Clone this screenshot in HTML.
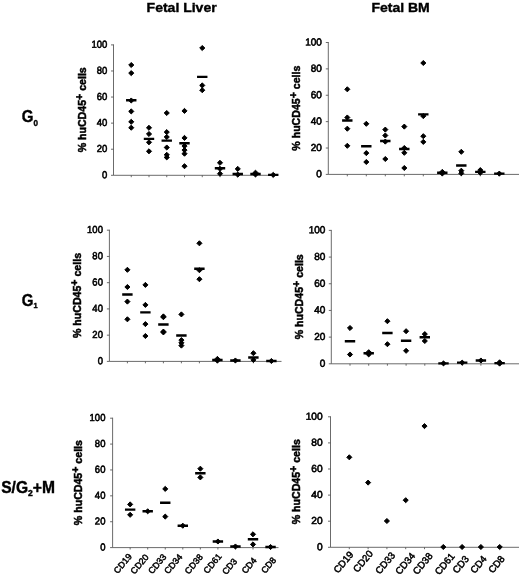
<!DOCTYPE html>
<html><head><meta charset="utf-8"><title>Figure</title>
<style>
html,body{margin:0;padding:0;background:#fff;}
body{width:520px;height:577px;overflow:hidden;}
svg{display:block;filter:blur(0.3px);font-family:"Liberation Sans",Arial,sans-serif;}
.t{font-weight:bold;font-size:13.6px;stroke:#000;stroke-width:0.4px;}
.r{font-weight:bold;font-size:16px;stroke:#000;stroke-width:0.4px;}
.yl{font-weight:bold;font-size:10.6px;stroke:#000;stroke-width:0.5px;}
.n{font-size:10.2px;stroke:#000;stroke-width:0.6px;}
.c{stroke:#000;stroke-width:0.5px;}
</style></head><body>
<svg width="520" height="577" viewBox="0 0 520 577">
<rect width="520" height="577" fill="#fff"/>

<text class="t" transform="translate(181.6 11.7) scale(1.03 1)" text-anchor="middle">Fetal Liver</text>
<text class="t" transform="translate(400.6 11.7) scale(1.03 1)" text-anchor="middle">Fetal BM</text>
<text class="r" transform="translate(21.8 122.3) scale(0.94 1)">G<tspan font-size="8.6" dy="3.2">0</tspan></text>
<text class="r" transform="translate(21.8 306.4) scale(0.94 1)">G<tspan font-size="7.8" dy="1.5">1</tspan></text>
<text class="r" transform="translate(1.2 492.9) scale(0.975 1)" font-size="15">S/G<tspan font-size="8.8" dy="3.3">2</tspan><tspan dy="-3.3">+M</tspan></text>
<g><path d="M113.5 44.4V175.3H276.5" fill="none" stroke="#505050" stroke-width="0.85"/>
<path d="M111.0 175.30H113.5 M111.0 149.22H113.5 M111.0 123.14H113.5 M111.0 97.06H113.5 M111.0 70.98H113.5 M111.0 44.90H113.5 M131.25 175.3V177.20000000000002 M149.00 175.3V177.20000000000002 M166.75 175.3V177.20000000000002 M184.50 175.3V177.20000000000002 M202.25 175.3V177.20000000000002 M220.00 175.3V177.20000000000002 M237.75 175.3V177.20000000000002 M255.50 175.3V177.20000000000002 M273.25 175.3V177.20000000000002" fill="none" stroke="#505050" stroke-width="0.85"/>
<text class="n" transform="translate(107.20 178.20) scale(0.93 1) rotate(0.03)" text-anchor="end">0</text>
<text class="n" transform="translate(107.20 152.12) scale(0.93 1) rotate(0.03)" text-anchor="end">20</text>
<text class="n" transform="translate(107.20 126.04) scale(0.93 1) rotate(0.03)" text-anchor="end">40</text>
<text class="n" transform="translate(107.20 99.96) scale(0.93 1) rotate(0.03)" text-anchor="end">60</text>
<text class="n" transform="translate(107.20 73.88) scale(0.93 1) rotate(0.03)" text-anchor="end">80</text>
<text class="n" transform="translate(107.20 47.80) scale(0.93 1) rotate(0.03)" text-anchor="end">100</text>
<text class="yl" transform="translate(85.5 109.80000000000001) rotate(-90)" text-anchor="middle">% huCD45<tspan font-size="10.6" dy="-3.0">+</tspan><tspan dy="3.0"> cells</tspan></text>
<path d="M131.25 62.45l2.55 2.55l-2.55 2.55l-2.55 -2.55z M131.25 70.55l2.55 2.55l-2.55 2.55l-2.55 -2.55z M131.25 97.95l2.55 2.55l-2.55 2.55l-2.55 -2.55z M131.25 108.85l2.55 2.55l-2.55 2.55l-2.55 -2.55z M131.25 119.25l2.55 2.55l-2.55 2.55l-2.55 -2.55z M131.25 125.15l2.55 2.55l-2.55 2.55l-2.55 -2.55z M149.00 125.25l2.55 2.55l-2.55 2.55l-2.55 -2.55z M149.00 131.45l2.55 2.55l-2.55 2.55l-2.55 -2.55z M149.00 139.75l2.55 2.55l-2.55 2.55l-2.55 -2.55z M149.00 148.75l2.55 2.55l-2.55 2.55l-2.55 -2.55z M166.75 110.45l2.55 2.55l-2.55 2.55l-2.55 -2.55z M166.75 129.55l2.55 2.55l-2.55 2.55l-2.55 -2.55z M166.75 134.45l2.55 2.55l-2.55 2.55l-2.55 -2.55z M166.75 144.95l2.55 2.55l-2.55 2.55l-2.55 -2.55z M166.75 152.25l2.55 2.55l-2.55 2.55l-2.55 -2.55z M166.75 154.85l2.55 2.55l-2.55 2.55l-2.55 -2.55z M184.50 108.35l2.55 2.55l-2.55 2.55l-2.55 -2.55z M184.50 135.35l2.55 2.55l-2.55 2.55l-2.55 -2.55z M184.50 143.55l2.55 2.55l-2.55 2.55l-2.55 -2.55z M184.50 147.55l2.55 2.55l-2.55 2.55l-2.55 -2.55z M184.50 151.15l2.55 2.55l-2.55 2.55l-2.55 -2.55z M184.50 163.65l2.55 2.55l-2.55 2.55l-2.55 -2.55z M202.25 45.45l2.55 2.55l-2.55 2.55l-2.55 -2.55z M202.25 82.85l2.55 2.55l-2.55 2.55l-2.55 -2.55z M202.25 87.65l2.55 2.55l-2.55 2.55l-2.55 -2.55z M220.00 160.25l2.55 2.55l-2.55 2.55l-2.55 -2.55z M220.00 166.25l2.55 2.55l-2.55 2.55l-2.55 -2.55z M220.00 171.15l2.55 2.55l-2.55 2.55l-2.55 -2.55z M237.75 166.35l2.55 2.55l-2.55 2.55l-2.55 -2.55z M237.75 172.05l2.55 2.55l-2.55 2.55l-2.55 -2.55z M255.50 170.15l2.55 2.55l-2.55 2.55l-2.55 -2.55z M255.50 171.95l2.55 2.55l-2.55 2.55l-2.55 -2.55z M273.25 172.35l2.55 2.55l-2.55 2.55l-2.55 -2.55z" fill="#000" stroke="#000" stroke-width="1.0" stroke-linejoin="round"/>
<path d="M126.05 100.20h10.4 M143.80 138.90h10.4 M161.55 140.60h10.4 M179.30 143.20h10.4 M197.05 76.90h10.4 M214.80 168.30h10.4 M232.55 174.00h10.4 M250.30 174.00h10.4 M268.05 174.90h10.4" stroke="#000" stroke-width="2.4" fill="none"/></g>
<g><path d="M328.3 42.0V174.4H519" fill="none" stroke="#505050" stroke-width="0.85"/>
<path d="M325.8 174.40H328.3 M325.8 148.02H328.3 M325.8 121.64H328.3 M325.8 95.26H328.3 M325.8 68.88H328.3 M325.8 42.50H328.3 M347.30 174.4V176.3 M366.30 174.4V176.3 M385.30 174.4V176.3 M404.30 174.4V176.3 M423.30 174.4V176.3 M442.30 174.4V176.3 M461.30 174.4V176.3 M480.30 174.4V176.3 M499.30 174.4V176.3" fill="none" stroke="#505050" stroke-width="0.85"/>
<text class="n" transform="translate(321.80 177.30) scale(0.98 1) rotate(0.03)" text-anchor="end">0</text>
<text class="n" transform="translate(321.80 150.92) scale(0.98 1) rotate(0.03)" text-anchor="end">20</text>
<text class="n" transform="translate(321.80 124.54) scale(0.98 1) rotate(0.03)" text-anchor="end">40</text>
<text class="n" transform="translate(321.80 98.16) scale(0.98 1) rotate(0.03)" text-anchor="end">60</text>
<text class="n" transform="translate(321.80 71.78) scale(0.98 1) rotate(0.03)" text-anchor="end">80</text>
<text class="n" transform="translate(321.80 45.40) scale(0.98 1) rotate(0.03)" text-anchor="end">100</text>
<text class="yl" transform="translate(299.5 108.15) rotate(-90)" text-anchor="middle">% huCD45<tspan font-size="10.6" dy="-3.0">+</tspan><tspan dy="3.0"> cells</tspan></text>
<path d="M347.30 86.75l2.55 2.55l-2.55 2.55l-2.55 -2.55z M347.30 114.95l2.55 2.55l-2.55 2.55l-2.55 -2.55z M347.30 126.15l2.55 2.55l-2.55 2.55l-2.55 -2.55z M347.30 143.25l2.55 2.55l-2.55 2.55l-2.55 -2.55z M366.30 121.25l2.55 2.55l-2.55 2.55l-2.55 -2.55z M366.30 150.55l2.55 2.55l-2.55 2.55l-2.55 -2.55z M366.30 159.45l2.55 2.55l-2.55 2.55l-2.55 -2.55z M385.30 127.05l2.55 2.55l-2.55 2.55l-2.55 -2.55z M385.30 132.95l2.55 2.55l-2.55 2.55l-2.55 -2.55z M385.30 139.05l2.55 2.55l-2.55 2.55l-2.55 -2.55z M385.30 156.45l2.55 2.55l-2.55 2.55l-2.55 -2.55z M404.30 124.05l2.55 2.55l-2.55 2.55l-2.55 -2.55z M404.30 145.45l2.55 2.55l-2.55 2.55l-2.55 -2.55z M404.30 150.25l2.55 2.55l-2.55 2.55l-2.55 -2.55z M404.30 165.45l2.55 2.55l-2.55 2.55l-2.55 -2.55z M423.30 60.45l2.55 2.55l-2.55 2.55l-2.55 -2.55z M423.30 113.55l2.55 2.55l-2.55 2.55l-2.55 -2.55z M423.30 133.65l2.55 2.55l-2.55 2.55l-2.55 -2.55z M423.30 139.35l2.55 2.55l-2.55 2.55l-2.55 -2.55z M442.30 169.35l2.55 2.55l-2.55 2.55l-2.55 -2.55z M442.30 170.95l2.55 2.55l-2.55 2.55l-2.55 -2.55z M461.30 149.25l2.55 2.55l-2.55 2.55l-2.55 -2.55z M461.30 168.15l2.55 2.55l-2.55 2.55l-2.55 -2.55z M461.30 170.75l2.55 2.55l-2.55 2.55l-2.55 -2.55z M480.30 167.55l2.55 2.55l-2.55 2.55l-2.55 -2.55z M480.30 170.15l2.55 2.55l-2.55 2.55l-2.55 -2.55z M499.30 171.05l2.55 2.55l-2.55 2.55l-2.55 -2.55z" fill="#000" stroke="#000" stroke-width="1.0" stroke-linejoin="round"/>
<path d="M342.10 120.50h10.4 M361.10 146.20h10.4 M380.10 141.00h10.4 M399.10 149.00h10.4 M418.10 114.40h10.4 M437.10 172.70h10.4 M456.10 165.50h10.4 M475.10 171.90h10.4 M494.10 173.60h10.4" stroke="#000" stroke-width="2.4" fill="none"/></g>
<g><path d="M109.4 229.7V361.4H281.5" fill="none" stroke="#505050" stroke-width="0.85"/>
<path d="M106.9 361.40H109.4 M106.9 335.16H109.4 M106.9 308.92H109.4 M106.9 282.68H109.4 M106.9 256.44H109.4 M106.9 230.20H109.4 M127.40 361.4V363.29999999999995 M145.40 361.4V363.29999999999995 M163.40 361.4V363.29999999999995 M181.40 361.4V363.29999999999995 M199.40 361.4V363.29999999999995 M217.40 361.4V363.29999999999995 M235.40 361.4V363.29999999999995 M253.40 361.4V363.29999999999995 M271.40 361.4V363.29999999999995" fill="none" stroke="#505050" stroke-width="0.85"/>
<text class="n" transform="translate(102.90 364.30) scale(0.93 1) rotate(0.03)" text-anchor="end">0</text>
<text class="n" transform="translate(102.90 338.06) scale(0.93 1) rotate(0.03)" text-anchor="end">20</text>
<text class="n" transform="translate(102.90 311.82) scale(0.93 1) rotate(0.03)" text-anchor="end">40</text>
<text class="n" transform="translate(102.90 285.58) scale(0.93 1) rotate(0.03)" text-anchor="end">60</text>
<text class="n" transform="translate(102.90 259.34) scale(0.93 1) rotate(0.03)" text-anchor="end">80</text>
<text class="n" transform="translate(102.90 233.10) scale(0.93 1) rotate(0.03)" text-anchor="end">100</text>
<text class="yl" transform="translate(80.9 295.49999999999994) rotate(-90)" text-anchor="middle">% huCD45<tspan font-size="10.6" dy="-3.0">+</tspan><tspan dy="3.0"> cells</tspan></text>
<path d="M127.40 267.25l2.55 2.55l-2.55 2.55l-2.55 -2.55z M127.40 284.45l2.55 2.55l-2.55 2.55l-2.55 -2.55z M127.40 299.05l2.55 2.55l-2.55 2.55l-2.55 -2.55z M127.40 316.75l2.55 2.55l-2.55 2.55l-2.55 -2.55z M145.40 282.35l2.55 2.55l-2.55 2.55l-2.55 -2.55z M145.40 302.35l2.55 2.55l-2.55 2.55l-2.55 -2.55z M145.40 321.55l2.55 2.55l-2.55 2.55l-2.55 -2.55z M145.40 333.45l2.55 2.55l-2.55 2.55l-2.55 -2.55z M163.40 313.85l2.55 2.55l-2.55 2.55l-2.55 -2.55z M163.40 314.65l2.55 2.55l-2.55 2.55l-2.55 -2.55z M163.40 329.05l2.55 2.55l-2.55 2.55l-2.55 -2.55z M163.40 329.85l2.55 2.55l-2.55 2.55l-2.55 -2.55z M181.40 311.85l2.55 2.55l-2.55 2.55l-2.55 -2.55z M181.40 337.55l2.55 2.55l-2.55 2.55l-2.55 -2.55z M181.40 340.25l2.55 2.55l-2.55 2.55l-2.55 -2.55z M181.40 343.05l2.55 2.55l-2.55 2.55l-2.55 -2.55z M199.40 240.75l2.55 2.55l-2.55 2.55l-2.55 -2.55z M199.40 267.65l2.55 2.55l-2.55 2.55l-2.55 -2.55z M199.40 276.65l2.55 2.55l-2.55 2.55l-2.55 -2.55z M217.40 356.35l2.55 2.55l-2.55 2.55l-2.55 -2.55z M217.40 358.05l2.55 2.55l-2.55 2.55l-2.55 -2.55z M235.40 357.95l2.55 2.55l-2.55 2.55l-2.55 -2.55z M253.40 350.65l2.55 2.55l-2.55 2.55l-2.55 -2.55z M253.40 357.35l2.55 2.55l-2.55 2.55l-2.55 -2.55z M271.40 358.45l2.55 2.55l-2.55 2.55l-2.55 -2.55z" fill="#000" stroke="#000" stroke-width="1.0" stroke-linejoin="round"/>
<path d="M122.20 294.50h10.4 M140.20 312.40h10.4 M158.20 324.50h10.4 M176.20 335.50h10.4 M194.20 268.80h10.4 M212.20 360.00h10.4 M230.20 360.50h10.4 M248.20 357.50h10.4 M266.20 361.00h10.4" stroke="#000" stroke-width="2.4" fill="none"/></g>
<g><path d="M331.3 229.9V363.8H519" fill="none" stroke="#505050" stroke-width="0.85"/>
<path d="M328.8 363.80H331.3 M328.8 337.12H331.3 M328.8 310.44H331.3 M328.8 283.76H331.3 M328.8 257.08H331.3 M328.8 230.40H331.3 M350.00 363.8V365.7 M368.70 363.8V365.7 M387.40 363.8V365.7 M406.10 363.8V365.7 M424.80 363.8V365.7 M443.50 363.8V365.7 M462.20 363.8V365.7 M480.90 363.8V365.7 M499.60 363.8V365.7" fill="none" stroke="#505050" stroke-width="0.85"/>
<text class="n" transform="translate(325.30 366.70) scale(0.98 1) rotate(0.03)" text-anchor="end">0</text>
<text class="n" transform="translate(325.30 340.02) scale(0.98 1) rotate(0.03)" text-anchor="end">20</text>
<text class="n" transform="translate(325.30 313.34) scale(0.98 1) rotate(0.03)" text-anchor="end">40</text>
<text class="n" transform="translate(325.30 286.66) scale(0.98 1) rotate(0.03)" text-anchor="end">60</text>
<text class="n" transform="translate(325.30 259.98) scale(0.98 1) rotate(0.03)" text-anchor="end">80</text>
<text class="n" transform="translate(325.30 233.30) scale(0.98 1) rotate(0.03)" text-anchor="end">100</text>
<text class="yl" transform="translate(302.5 296.8) rotate(-90)" text-anchor="middle">% huCD45<tspan font-size="10.6" dy="-3.0">+</tspan><tspan dy="3.0"> cells</tspan></text>
<path d="M350.00 325.45l2.55 2.55l-2.55 2.55l-2.55 -2.55z M350.00 351.95l2.55 2.55l-2.55 2.55l-2.55 -2.55z M368.70 349.65l2.55 2.55l-2.55 2.55l-2.55 -2.55z M368.70 351.85l2.55 2.55l-2.55 2.55l-2.55 -2.55z M387.40 318.65l2.55 2.55l-2.55 2.55l-2.55 -2.55z M387.40 341.65l2.55 2.55l-2.55 2.55l-2.55 -2.55z M406.10 328.65l2.55 2.55l-2.55 2.55l-2.55 -2.55z M406.10 348.25l2.55 2.55l-2.55 2.55l-2.55 -2.55z M424.80 331.55l2.55 2.55l-2.55 2.55l-2.55 -2.55z M424.80 338.45l2.55 2.55l-2.55 2.55l-2.55 -2.55z M443.50 360.85l2.55 2.55l-2.55 2.55l-2.55 -2.55z M462.20 360.05l2.55 2.55l-2.55 2.55l-2.55 -2.55z M480.90 357.95l2.55 2.55l-2.55 2.55l-2.55 -2.55z M499.60 359.75l2.55 2.55l-2.55 2.55l-2.55 -2.55z M499.60 361.05l2.55 2.55l-2.55 2.55l-2.55 -2.55z" fill="#000" stroke="#000" stroke-width="1.0" stroke-linejoin="round"/>
<path d="M344.80 341.30h10.4 M363.50 353.30h10.4 M382.20 333.00h10.4 M400.90 340.70h10.4 M419.60 337.30h10.4 M438.30 363.40h10.4 M457.00 362.60h10.4 M475.70 360.50h10.4 M494.40 363.10h10.4" stroke="#000" stroke-width="2.4" fill="none"/></g>
<g><path d="M112.6 417.7V547.6H278.5" fill="none" stroke="#505050" stroke-width="0.85"/>
<path d="M110.1 547.60H112.6 M110.1 521.72H112.6 M110.1 495.84H112.6 M110.1 469.96H112.6 M110.1 444.08H112.6 M110.1 418.20H112.6 M130.15 547.6V549.5 M147.70 547.6V549.5 M165.25 547.6V549.5 M182.80 547.6V549.5 M200.35 547.6V549.5 M217.90 547.6V549.5 M235.45 547.6V549.5 M253.00 547.6V549.5 M270.55 547.6V549.5" fill="none" stroke="#505050" stroke-width="0.85"/>
<text class="n" transform="translate(105.40 550.50) scale(0.93 1) rotate(0.03)" text-anchor="end">0</text>
<text class="n" transform="translate(105.40 524.62) scale(0.93 1) rotate(0.03)" text-anchor="end">20</text>
<text class="n" transform="translate(105.40 498.74) scale(0.93 1) rotate(0.03)" text-anchor="end">40</text>
<text class="n" transform="translate(105.40 472.86) scale(0.93 1) rotate(0.03)" text-anchor="end">60</text>
<text class="n" transform="translate(105.40 446.98) scale(0.93 1) rotate(0.03)" text-anchor="end">80</text>
<text class="n" transform="translate(105.40 421.10) scale(0.93 1) rotate(0.03)" text-anchor="end">100</text>
<text class="yl" transform="translate(81.8 482.59999999999997) rotate(-90)" text-anchor="middle">% huCD45<tspan font-size="10.6" dy="-3.0">+</tspan><tspan dy="3.0"> cells</tspan></text>
<path d="M130.15 501.85l2.55 2.55l-2.55 2.55l-2.55 -2.55z M130.15 512.25l2.55 2.55l-2.55 2.55l-2.55 -2.55z M147.70 508.75l2.55 2.55l-2.55 2.55l-2.55 -2.55z M165.25 486.35l2.55 2.55l-2.55 2.55l-2.55 -2.55z M165.25 514.05l2.55 2.55l-2.55 2.55l-2.55 -2.55z M182.80 523.15l2.55 2.55l-2.55 2.55l-2.55 -2.55z M200.35 466.15l2.55 2.55l-2.55 2.55l-2.55 -2.55z M200.35 474.85l2.55 2.55l-2.55 2.55l-2.55 -2.55z M217.90 538.95l2.55 2.55l-2.55 2.55l-2.55 -2.55z M235.45 543.95l2.55 2.55l-2.55 2.55l-2.55 -2.55z M253.00 531.75l2.55 2.55l-2.55 2.55l-2.55 -2.55z M253.00 541.85l2.55 2.55l-2.55 2.55l-2.55 -2.55z M270.55 544.45l2.55 2.55l-2.55 2.55l-2.55 -2.55z" fill="#000" stroke="#000" stroke-width="1.0" stroke-linejoin="round"/>
<path d="M124.95 509.60h10.4 M142.50 511.30h10.4 M160.05 502.80h10.4 M177.60 525.70h10.4 M195.15 473.20h10.4 M212.70 541.50h10.4 M230.25 546.50h10.4 M247.80 539.30h10.4 M265.35 547.00h10.4" stroke="#000" stroke-width="2.4" fill="none"/>
<text class="c" font-size="8.9" transform="translate(125.15 565.46) rotate(-50)" text-anchor="middle">CD19</text>
<text class="c" font-size="8.9" transform="translate(141.85 566.06) rotate(-50)" text-anchor="middle">CD20</text>
<text class="c" font-size="8.9" transform="translate(159.55 565.86) rotate(-50)" text-anchor="middle">CD33</text>
<text class="c" font-size="8.9" transform="translate(175.55 565.86) rotate(-50)" text-anchor="middle">CD34</text>
<text class="c" font-size="8.9" transform="translate(196.05 565.96) rotate(-50)" text-anchor="middle">CD38</text>
<text class="c" font-size="8.9" transform="translate(214.85 565.46) rotate(-50)" text-anchor="middle">CD61</text>
<text class="c" font-size="8.9" transform="translate(231.85 568.46) rotate(-50)" text-anchor="middle">CD3</text>
<text class="c" font-size="8.9" transform="translate(251.35 567.56) rotate(-50)" text-anchor="middle">CD4</text>
<text class="c" font-size="8.9" transform="translate(270.95 567.16) rotate(-50)" text-anchor="middle">CD8</text></g>
<g><path d="M330.5 416.3V547.3H519" fill="none" stroke="#505050" stroke-width="0.85"/>
<path d="M328.0 547.30H330.5 M328.0 521.20H330.5 M328.0 495.10H330.5 M328.0 469.00H330.5 M328.0 442.90H330.5 M328.0 416.80H330.5 M349.30 547.3V549.1999999999999 M368.10 547.3V549.1999999999999 M386.90 547.3V549.1999999999999 M405.70 547.3V549.1999999999999 M424.50 547.3V549.1999999999999 M443.30 547.3V549.1999999999999 M462.10 547.3V549.1999999999999 M480.90 547.3V549.1999999999999 M499.70 547.3V549.1999999999999" fill="none" stroke="#505050" stroke-width="0.85"/>
<text class="n" transform="translate(322.70 550.20) scale(1.0 1) rotate(0.03)" text-anchor="end">0</text>
<text class="n" transform="translate(322.70 524.10) scale(1.0 1) rotate(0.03)" text-anchor="end">20</text>
<text class="n" transform="translate(322.70 498.00) scale(1.0 1) rotate(0.03)" text-anchor="end">40</text>
<text class="n" transform="translate(322.70 471.90) scale(1.0 1) rotate(0.03)" text-anchor="end">60</text>
<text class="n" transform="translate(322.70 445.80) scale(1.0 1) rotate(0.03)" text-anchor="end">80</text>
<text class="n" transform="translate(322.70 419.70) scale(1.0 1) rotate(0.03)" text-anchor="end">100</text>
<text class="yl" transform="translate(299.9 481.74999999999994) rotate(-90)" text-anchor="middle">% huCD45<tspan font-size="10.6" dy="-3.0">+</tspan><tspan dy="3.0"> cells</tspan></text>
<path d="M349.30 454.75l2.55 2.55l-2.55 2.55l-2.55 -2.55z M368.10 480.05l2.55 2.55l-2.55 2.55l-2.55 -2.55z M386.90 518.45l2.55 2.55l-2.55 2.55l-2.55 -2.55z M405.70 497.65l2.55 2.55l-2.55 2.55l-2.55 -2.55z M424.50 423.55l2.55 2.55l-2.55 2.55l-2.55 -2.55z M443.30 544.45l2.55 2.55l-2.55 2.55l-2.55 -2.55z M462.10 544.45l2.55 2.55l-2.55 2.55l-2.55 -2.55z M480.90 544.45l2.55 2.55l-2.55 2.55l-2.55 -2.55z M499.70 544.45l2.55 2.55l-2.55 2.55l-2.55 -2.55z" fill="#000" stroke="#000" stroke-width="1.0" stroke-linejoin="round"/>
<text class="c" font-size="9.7" transform="translate(346.07 564.35) rotate(-50)" text-anchor="middle">CD19</text>
<text class="c" font-size="9.7" transform="translate(365.57 563.45) rotate(-50)" text-anchor="middle">CD20</text>
<text class="c" font-size="9.7" transform="translate(387.77 565.15) rotate(-50)" text-anchor="middle">CD33</text>
<text class="c" font-size="9.7" transform="translate(407.67 565.65) rotate(-50)" text-anchor="middle">CD34</text>
<text class="c" font-size="9.7" transform="translate(425.17 565.65) rotate(-50)" text-anchor="middle">CD38</text>
<text class="c" font-size="9.7" transform="translate(447.27 566.05) rotate(-50)" text-anchor="middle">CD61</text>
<text class="c" font-size="9.7" transform="translate(463.27 566.65) rotate(-50)" text-anchor="middle">CD3</text>
<text class="c" font-size="9.7" transform="translate(480.87 566.65) rotate(-50)" text-anchor="middle">CD4</text>
<text class="c" font-size="9.7" transform="translate(499.07 566.45) rotate(-50)" text-anchor="middle">CD8</text></g>
</svg></body></html>
